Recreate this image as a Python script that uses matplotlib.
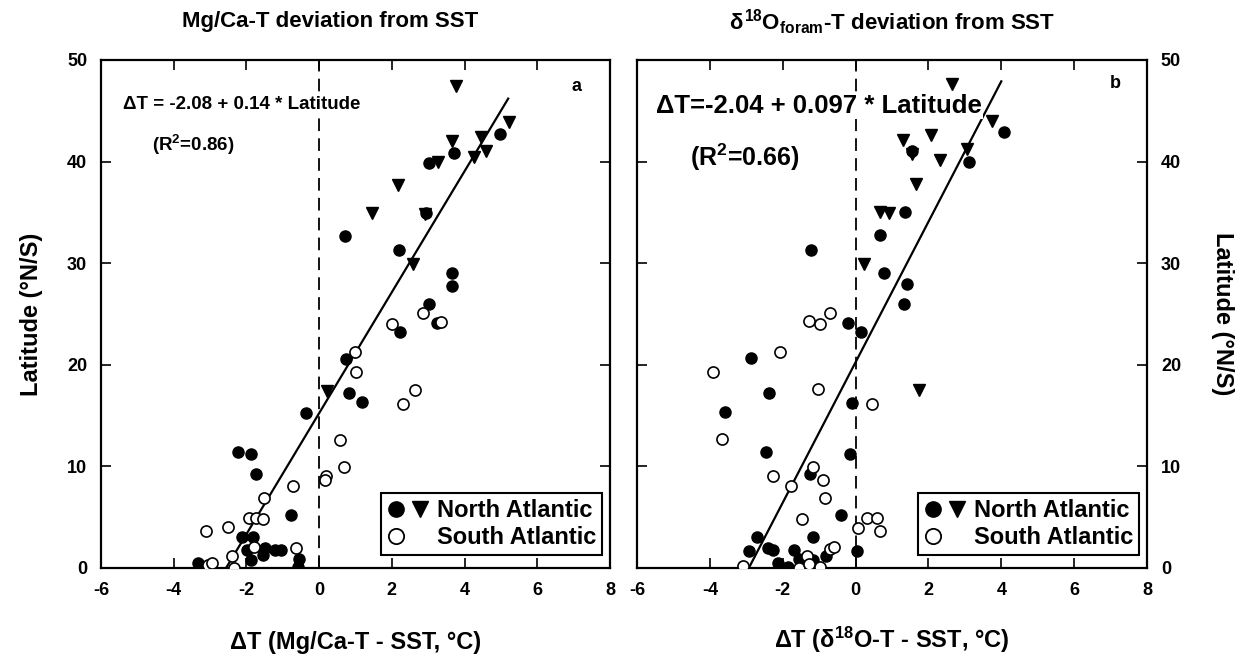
import matplotlib
matplotlib.use("Agg")
import matplotlib.pyplot as plt
from matplotlib.lines import Line2D
from matplotlib.legend_handler import HandlerTuple

plt.rcParams['font.family'] = ['Liberation Sans', 'DejaVu Sans']
plt.rcParams['font.weight'] = 'bold'
plt.rcParams['axes.unicode_minus'] = False
plt.rcParams['mathtext.fontset'] = 'custom'
plt.rcParams['mathtext.rm'] = 'Liberation Sans:bold'
plt.rcParams['mathtext.it'] = 'Liberation Sans:bold'
plt.rcParams['mathtext.bf'] = 'Liberation Sans:bold'
plt.rcParams['mathtext.sf'] = 'Liberation Sans:bold'

# ---- panel a: Mg/Ca-T minus SST (dT, latitude) ----
a_north_circ_dt = [0.72, 4.98, 3.71, 3.03, 2.94, 2.20, 3.66, 3.66, 3.03, 2.23,
                   3.24, 0.74, 0.83, 1.18, -0.36, -2.23, -1.87, -1.73, -0.77, -2.12,
                   -1.82, -1.98, -1.49, -1.54, -1.21, -1.05, -0.55, -0.58, -1.87, -3.33]
a_north_circ_lat = [32.7, 42.7, 40.8, 39.9, 34.9, 31.3, 29.0, 27.8, 26.0, 23.2,
                    24.1, 20.6, 17.2, 16.3, 15.3, 11.4, 11.2, 9.3, 5.2, 3.1,
                    3.1, 1.8, 2.0, 1.3, 1.8, 1.8, 0.9, 0.1, 0.8, 0.5]
a_north_tri_dt = [3.77, 5.23, 4.45, 3.66, 4.59, 4.26, 3.27, 2.17, 1.46, 2.90, 2.59, 0.22]
a_north_tri_lat = [47.4, 43.9, 42.4, 42.0, 41.0, 40.5, 40.0, 37.7, 34.9, 34.8, 29.9, 17.4]
a_south_dt = [2.85, 2.00, 3.35, 0.99, 1.02, 2.31, 2.64, 0.58, 0.69, 0.19,
              0.17, -0.72, -1.51, -1.93, -1.73, -1.54, -3.11, -2.50, -1.79, -0.63,
              -2.39, -2.34, -3.05, -2.94]
a_south_lat = [25.1, 24.0, 24.2, 21.3, 19.3, 16.1, 17.5, 12.6, 9.9, 9.1,
               8.7, 8.1, 6.9, 4.9, 4.9, 4.8, 3.6, 4.0, 2.1, 2.0,
               1.2, 0.0, 0.3, 0.5]
a_fit_dt = [-2.56, 5.2]
a_fit_lat = [0, 46.2]

# ---- panel b: d18O-T minus SST ----
b_north_circ_dt = [-1.21, 4.08, 1.56, 3.10, 1.37, 0.66, 0.79, 1.40, 1.34, -0.22,
                   0.16, -0.10, -0.16, -0.41, 0.05, -0.82, -2.88, -2.38, -3.59, -2.47,
                   -1.26, -2.71, -1.18, -2.93, -2.41, -2.27, -1.70, -2.14, -1.86, -1.18, -1.56]
b_north_circ_lat = [31.3, 42.9, 41.0, 40.0, 35.0, 32.8, 29.0, 28.0, 26.0, 24.1,
                    23.2, 16.2, 11.2, 5.2, 1.7, 1.2, 20.7, 17.2, 15.4, 11.4,
                    9.3, 3.1, 3.1, 1.7, 2.0, 1.8, 1.8, 0.5, 0.1, 0.8, 0.9]
b_north_tri_dt = [2.66, 3.75, 2.08, 1.29, 1.56, 2.33, 3.07, 1.67, 0.66, 0.93, 0.22, 1.73]
b_north_tri_lat = [47.6, 44.0, 42.6, 42.1, 40.7, 40.2, 41.2, 37.8, 35.0, 34.9, 29.9, 17.5]
b_south_dt = [-0.71, -1.29, -0.99, -2.08, -3.92, -1.04, 0.44, -3.67, -1.18, -2.27,
              -0.90, -1.78, -0.85, -1.48, 0.30, 0.60, 0.08, 0.68, -0.71, -0.60,
              -1.34, -1.56, -1.29, -0.99, -3.10]
b_south_lat = [25.1, 24.3, 24.0, 21.3, 19.3, 17.6, 16.1, 12.7, 9.9, 9.1,
               8.7, 8.1, 6.9, 4.8, 4.9, 4.9, 3.9, 3.6, 1.9, 2.1,
               1.2, 0.0, 0.4, 0.1, 0.2]
b_fit_dt = [-2.93, 4.0]
b_fit_lat = [0, 47.9]

xticks = [-6, -4, -2, 0, 2, 4, 6, 8]
yticks = [0, 10, 20, 30, 40, 50]

fig = plt.figure(figsize=(12.51, 6.58), dpi=100)
ax_a = fig.add_axes([101 / 1251, 90 / 658, 509 / 1251, 508 / 658])
ax_b = fig.add_axes([637 / 1251, 90 / 658, 510 / 1251, 508 / 658])


def draw_panel(ax, nc_x, nc_y, nt_x, nt_y, s_x, s_y, fit_x, fit_y):
    ax.plot(nc_x, nc_y, 'o', color='black', ms=8, zorder=4)
    ax.plot(nt_x, nt_y, 'v', color='black', ms=8.5, zorder=4)
    ax.plot(s_x, s_y, 'o', mfc='white', mec='black', mew=1.2, ms=8, zorder=4)
    ax.plot(fit_x, fit_y, '-', color='black', lw=1.6, zorder=3)
    ax.axvline(0, color='black', lw=1.3, ls=(0, (7, 4)), zorder=1)
    ax.set_xlim(-6, 8)
    ax.set_ylim(0, 50)
    ax.set_xticks(xticks)
    ax.set_yticks(yticks)
    ax.tick_params(direction='in', length=7, width=1.2, top=True, right=True,
                   labelsize=13, pad=10)
    for s in ax.spines.values():
        s.set_linewidth(1.6)
    nh = (Line2D([], [], marker='o', ls='none', color='black', ms=11),
          Line2D([], [], marker='v', ls='none', color='black', ms=11))
    sh = (Line2D([], [], marker='o', ls='none', mfc='white', mec='black', mew=1.3, ms=11),
          Line2D([], [], ls='none'))
    leg = ax.legend([nh, sh], ['North Atlantic', 'South Atlantic'],
                    handler_map={tuple: HandlerTuple(ndivide=None, pad=0.2)},
                    loc='lower right', bbox_to_anchor=(0.984, 0.026), borderaxespad=0,
                    fancybox=False, edgecolor='black', framealpha=1,
                    prop={'size': 17, 'weight': 'bold'}, handlelength=1.8,
                    handletextpad=0.3, labelspacing=0.15, borderpad=0.25)
    leg.get_frame().set_linewidth(1.5)


draw_panel(ax_a, a_north_circ_dt, a_north_circ_lat, a_north_tri_dt, a_north_tri_lat,
           a_south_dt, a_south_lat, a_fit_dt, a_fit_lat)
draw_panel(ax_b, b_north_circ_dt, b_north_circ_lat, b_north_tri_dt, b_north_tri_lat,
           b_south_dt, b_south_lat, b_fit_dt, b_fit_lat)

# panel a text
ax_a.set_title('Mg/Ca-T deviation from SST', fontsize=16, fontweight='bold', x=0.45, pad=24)
ax_a.set_xlabel('ΔT (Mg/Ca-T - SST, °C)', fontsize=17, fontweight='bold', labelpad=23)
ax_a.set_ylabel('Latitude (°N/S)', fontsize=17, fontweight='bold', labelpad=17)
ax_a.text(-5.4, 45.6, 'ΔT = -2.08 + 0.14 * Latitude', fontsize=13.5, fontweight='bold',
          va='center', ha='left', zorder=5,
          bbox=dict(facecolor='white', edgecolor='none', pad=1))
ax_a.text(-4.6, 41.6, '(R$^2$=0.86)', fontsize=13.5, va='center', ha='left')
ax_a.text(0.935, 0.947, 'a', transform=ax_a.transAxes, fontsize=13, ha='center', va='center')

# panel b text
ax_b.yaxis.tick_right()
ax_b.tick_params(left=True, labelleft=False, labelright=True)
ax_b.yaxis.set_label_position('right')
ax_b.set_title(r'$\delta^{18}$O$_{foram}$-T deviation from SST', fontsize=16,
               fontweight='bold', pad=22)
ax_b.set_xlabel(r'ΔT (δ$^{18}$O-T - SST, °C)', fontsize=17, fontweight='bold', labelpad=19)
ax_b.set_ylabel('Latitude (°N/S)', fontsize=17, fontweight='bold', rotation=270,
                labelpad=38)
ax_b.text(-5.48, 45.5, 'ΔT=-2.04 + 0.097 * Latitude', fontsize=18.5, fontweight='bold',
          va='center', ha='left', zorder=5,
          bbox=dict(facecolor='white', edgecolor='none', pad=1))
ax_b.text(-4.55, 40.4, '(R$^2$=0.66)', fontsize=18, va='center', ha='left')
ax_b.text(0.937, 0.953, 'b', transform=ax_b.transAxes, fontsize=13, ha='center', va='center')

fig.savefig('out.png', dpi=100)
